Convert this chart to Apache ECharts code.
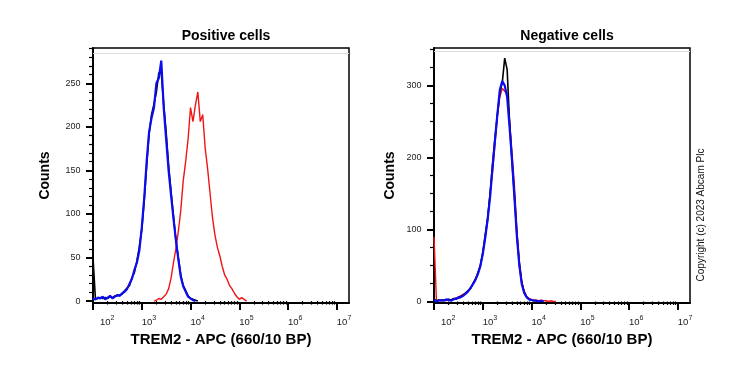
<!DOCTYPE html>
<html><head><meta charset="utf-8">
<script src="https://cdn.jsdelivr.net/npm/echarts@6/dist/echarts.min.js"></script>
<style>html,body{margin:0;padding:0;background:#fff}#c{width:739px;height:370px}</style>
</head><body><div id="c"></div>
<script>
// x positions in decades (log10 of TREM2 - APC intensity)
const posX = [2.00,2.05,2.10,2.15,2.20,2.25,2.30,2.35,2.40,2.45,2.50,2.55,2.60,2.65,2.70,2.75,2.80,2.85,2.90,2.95,
  3.00,3.05,3.10,3.15,3.20,3.25,3.30,3.35,3.40,3.45,3.50,3.55,3.60,3.65,3.70,3.75,3.80,3.85,3.90,3.95,
  4.00,4.05,4.10,4.15,4.20,4.25,4.30,4.35,4.40,4.45,4.50,4.55,4.60,4.65,4.70,4.75,4.80,4.85,4.90,4.95,
  5.00,5.05,5.10,5.15,5.20];
const posBlack = [50,2,3,4,3,4,3,5,4,6,6,7,8,12,15,18,27,33,46,62,
  82,115,155,192,214,226,240,262,262,226,194,156,126,98,70,50,30,18,12,6,
  3,2,1,0];
const posBlue = [3,2,4,3,5,2,4,6,3,5,7,6,9,11,14,20,26,36,44,58,
  84,118,160,194,210,222,250,256,276,222,186,150,122,95,70,48,28,17,11,5,
  3,1,0];
const posRed = [null,null,null,null,null,null,null,null,null,null,null,null,null,null,null,null,null,null,null,null,
  null,null,null,null,null,0,1,3,2,5,8,14,26,44,60,80,104,138,160,186,
  222,206,225,240,206,214,176,152,124,96,76,62,52,40,30,25,18,14,9,5,
  2,4,2,0];

const negX = [2.00,2.05,2.10,2.15,2.20,2.25,2.30,2.35,2.40,2.45,2.50,2.55,2.60,2.65,2.70,2.75,2.80,2.85,2.90,2.95,
  3.00,3.05,3.10,3.15,3.20,3.25,3.30,3.35,3.40,3.45,3.50,3.55,3.60,3.65,3.70,3.75,3.80,3.85,3.90,3.95,
  4.00,4.05,4.10,4.15,4.20,4.25,4.30,4.35,4.40,4.45,4.50];
const negRed = [90,1,2,1,2,1,3,2,4,5,6,8,10,12,15,18,25,31,39,50,
  66,90,112,150,180,218,258,284,296,292,288,252,206,160,100,56,28,14,7,4,
  3,2,2,1,2,1,1,0,1,0,0];
const negBlack = [3,1,2,1,2,2,3,2,4,3,6,7,9,12,15,18,25,31,40,50,
  68,92,116,150,190,226,260,290,304,338,322,248,194,146,92,52,26,13,6,3,
  2,1,1,0,0];
const negBlue = [2,0,1,2,1,3,2,1,3,4,5,6,8,11,14,19,24,30,38,49,
  66,88,114,145,186,224,260,294,306,300,284,242,196,144,90,50,24,12,6,3,
  2,1,1,0,1,0];

// axis ticks
const xDecades = [2,3,4,5,6,7];
const xMinorMult = [2,3,4,5,6,7,8,9];
const posYMajor = [0,50,100,150,200,250];
const posYMinorStep = 10;
const negYMajor = [0,100,200,300];
const negYMinorStep = 25;

const titles = ['Positive cells','Negative cells'];
const xName = 'TREM2 - APC (660/10 BP)';
const yName = 'Counts';
const copyright = 'Copyright (c) 2023 Abcam Plc';

const FONT = '"Liberation Sans", Arial, sans-serif';
const C_RED = '#f01414', C_BLUE = '#0c0cf0', C_BLACK = '#000000';

function pairs(xs, ys) {
  const out = [];
  ys.forEach((v, i) => { if (v !== null) out.push([xs[i], v]); });
  return out;
}
const xMinor = [];
xDecades.forEach(d => xMinorMult.forEach(m => { const v = d + Math.log10(m); if (v <= 7.25) xMinor.push(v); }));
function minorList(max, step, major) {
  const out = [];
  for (let v = step; v <= max; v += step) if (major.indexOf(v) < 0) out.push(v);
  return out;
}

const panels = [
  {grid: {left: 93, top: 48, width: 256, height: 255}, yMin: -2.2, yMax: 290.5,
   major: posYMajor, minor: minorList(290, posYMinorStep, posYMajor), nameGap: 41,
   series: [[posX, posRed, C_RED, 1.4], [posX, posBlack, C_BLACK, 1.6], [posX, posBlue, C_BLUE, 2.2]], grey: 285},
  {grid: {left: 434, top: 48, width: 256, height: 255}, yMin: -2.1, yMax: 352,
   major: negYMajor, minor: minorList(350, negYMinorStep, negYMajor), nameGap: 37,
   series: [[negX, negRed, C_RED, 1.4], [negX, negBlack, C_BLACK, 1.6], [negX, negBlue, C_BLUE, 2.2]], grey: 348}
];

const option = {
  animation: false,
  backgroundColor: '#fff',
  title: [
    {text: titles[0], left: 221, top: 24, textAlign: 'center', textStyle: {fontSize: 14, fontWeight: 'bold', color: '#000', fontFamily: FONT}},
    {text: titles[1], left: 562, top: 24, textAlign: 'center', textStyle: {fontSize: 14, fontWeight: 'bold', color: '#000', fontFamily: FONT}}
  ],
  grid: panels.map(p => Object.assign({show: true, borderColor: '#000', borderWidth: 1.5, backgroundColor: 'transparent'}, p.grid)),
  xAxis: [], yAxis: [], series: [],
  graphic: [{
    type: 'text', x: 701, y: 215, rotation: Math.PI / 2,
    style: {text: copyright, fontSize: 10, fontFamily: FONT, fill: '#111', align: 'center', verticalAlign: 'middle'}
  }]
};

panels.forEach((p, g) => {
  const xi = option.xAxis.length, yi = option.yAxis.length;
  option.xAxis.push({
    type: 'value', gridIndex: g, min: 2, max: 7.25, position: 'bottom',
    axisLine: {show: true, onZero: false, lineStyle: {color: '#000', width: 2}},
    axisTick: {show: true, customValues: xDecades, length: 7, lineStyle: {color: '#000', width: 2}},
    axisLabel: {show: true, customValues: xDecades, margin: 12, align: 'left',
      formatter: v => (v === 2 ? '{p|10}{s|' + v + '}' : '{b|10}{s|' + v + '}'),
      rich: {
        b: {fontSize: 9.5, fontFamily: FONT, color: '#222', lineHeight: 12, verticalAlign: 'bottom'},
        p: {fontSize: 9.5, fontFamily: FONT, color: '#222', lineHeight: 12, verticalAlign: 'bottom', padding: [0, 0, 0, 7]},
        s: {fontSize: 7, fontFamily: FONT, color: '#222', lineHeight: 12, verticalAlign: 'top'}
      }},
    splitLine: {show: false},
    name: xName, nameLocation: 'middle', nameGap: 29,
    nameTextStyle: {fontSize: 15, fontWeight: 'bold', color: '#000', fontFamily: FONT}
  });
  option.xAxis.push({
    type: 'value', gridIndex: g, min: 2, max: 7.25, position: 'bottom',
    axisLine: {show: false},
    axisTick: {show: true, customValues: xMinor, length: 3.5, lineStyle: {color: '#000', width: 1.2}},
    axisLabel: {show: false}, splitLine: {show: false}
  });
  option.yAxis.push({
    type: 'value', gridIndex: g, min: p.yMin, max: p.yMax, position: 'left',
    axisLine: {show: true, onZero: false, lineStyle: {color: '#000', width: 2}},
    axisTick: {show: true, customValues: p.major, length: 7, lineStyle: {color: '#000', width: 2}},
    axisLabel: {show: true, customValues: p.major, margin: 12.5, fontSize: 9, fontFamily: FONT, color: '#222'},
    splitLine: {show: false},
    name: yName, nameLocation: 'middle', nameRotate: 90, nameGap: p.nameGap,
    nameTextStyle: {fontSize: 14, fontWeight: 'bold', color: '#000', fontFamily: FONT}
  });
  option.yAxis.push({
    type: 'value', gridIndex: g, min: p.yMin, max: p.yMax, position: 'left',
    axisLine: {show: false},
    axisTick: {show: true, customValues: p.minor, length: 4, lineStyle: {color: '#000', width: 1.2}},
    axisLabel: {show: false}, splitLine: {show: false}
  });
  p.series.forEach((s, k) => {
    const ser = {
      type: 'line', xAxisIndex: xi, yAxisIndex: yi, data: pairs(s[0], s[1]),
      symbol: 'none', showSymbol: false, silent: true,
      lineStyle: {color: s[2], width: s[3]}, z: 3 + k
    };
    if (k === 0) {
      ser.markLine = {silent: true, symbol: 'none', label: {show: false},
        lineStyle: {color: '#dcdcdc', width: 1, type: 'solid'}, data: [{yAxis: p.grey}]};
    }
    option.series.push(ser);
  });
});

const chart = echarts.init(document.getElementById('c'), null, {renderer: 'canvas'});
chart.setOption(option);
</script>
</body></html>
